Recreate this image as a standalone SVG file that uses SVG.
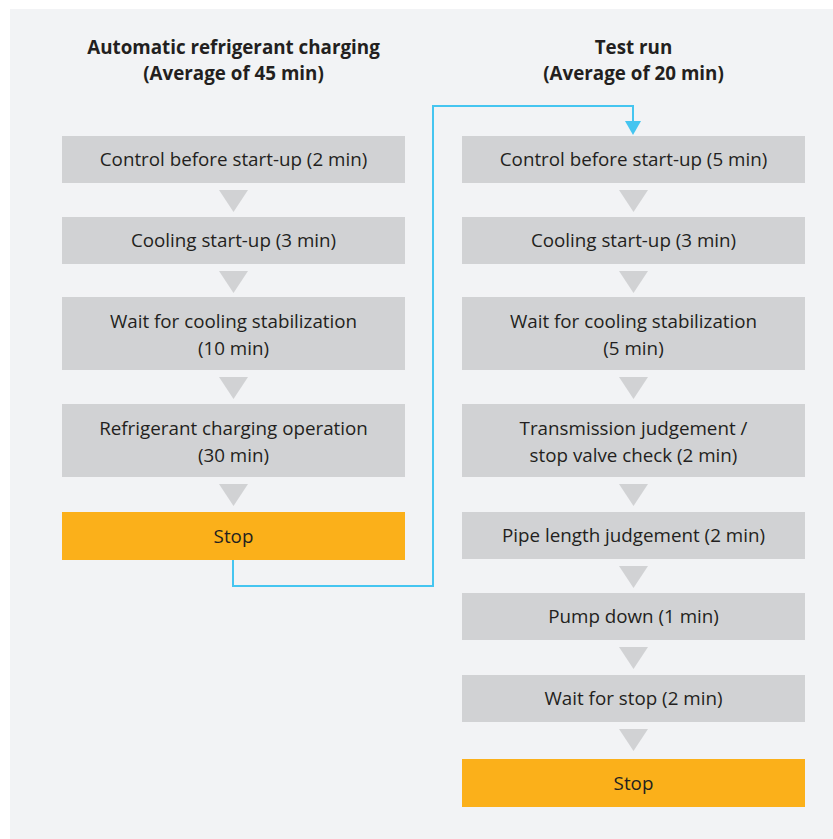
<svg xmlns="http://www.w3.org/2000/svg" width="833" height="839" viewBox="0 0 833 839">
<defs>
<style>
.box{fill:#d1d2d4}
.stop{fill:#fbb01a}
.tri{fill:#d1d2d4}
.t{font-family:"Open Sans","Noto Sans",sans-serif;font-size:18.8px;fill:#231f20;text-anchor:middle}
.h{font-family:"Open Sans","Noto Sans",sans-serif;font-size:18.8px;font-weight:bold;fill:#231f20;text-anchor:middle}
.conn{fill:none;stroke:#45c5f0;stroke-width:2}
</style>
</defs>
<rect x="10" y="9" width="823" height="830" fill="#f2f3f5"/>
<g id="titles">
<text class="h" x="233.5" y="54">Automatic refrigerant charging</text>
<text class="h" x="233.5" y="80">(Average of 45 min)</text>
<text class="h" x="633.5" y="54">Test run</text>
<text class="h" x="633.5" y="80">(Average of 20 min)</text>
</g>
<g id="connectors">
<polyline class="conn" points="233,560 233,586 433,586 433,106 633,106 633,122"/>
<path d="M625,121 L641,121 L633,135 Z" fill="#45c5f0"/>
<g class="tri">
<path d="M219,190 L248,190 L233.5,212 Z"/>
<path d="M219,271 L248,271 L233.5,293 Z"/>
<path d="M219,377 L248,377 L233.5,399 Z"/>
<path d="M219,484 L248,484 L233.5,506 Z"/>
<path d="M619,190 L648,190 L633.5,212 Z"/>
<path d="M619,271 L648,271 L633.5,293 Z"/>
<path d="M619,377 L648,377 L633.5,399 Z"/>
<path d="M619,484 L648,484 L633.5,506 Z"/>
<path d="M619,566 L648,566 L633.5,588 Z"/>
<path d="M619,647 L648,647 L633.5,669 Z"/>
<path d="M619,729 L648,729 L633.5,751 Z"/>
</g>
</g>
<g id="l1"><rect class="box" x="62" y="136" width="343" height="47"/><text class="t" x="233.5" y="166">Control before start-up (2 min)</text></g>
<g id="l2"><rect class="box" x="62" y="217" width="343" height="47"/><text class="t" x="233.5" y="247">Cooling start-up (3 min)</text></g>
<g id="l3"><rect class="box" x="62" y="297" width="343" height="73"/><text class="t" x="233.5" y="328">Wait for cooling stabilization</text><text class="t" x="233.5" y="355">(10 min)</text></g>
<g id="l4"><rect class="box" x="62" y="404" width="343" height="73"/><text class="t" x="233.5" y="435">Refrigerant charging operation</text><text class="t" x="233.5" y="462">(30 min)</text></g>
<g id="l5"><rect class="stop" x="62" y="512" width="343" height="48"/><text class="t" x="233.5" y="543">Stop</text></g>
<g id="r1"><rect class="box" x="462" y="136" width="343" height="47"/><text class="t" x="633.5" y="166">Control before start-up (5 min)</text></g>
<g id="r2"><rect class="box" x="462" y="217" width="343" height="47"/><text class="t" x="633.5" y="247">Cooling start-up (3 min)</text></g>
<g id="r3"><rect class="box" x="462" y="297" width="343" height="73"/><text class="t" x="633.5" y="328">Wait for cooling stabilization</text><text class="t" x="633.5" y="355">(5 min)</text></g>
<g id="r4"><rect class="box" x="462" y="404" width="343" height="73"/><text class="t" x="633.5" y="435">Transmission judgement /</text><text class="t" x="633.5" y="462">stop valve check (2 min)</text></g>
<g id="r5"><rect class="box" x="462" y="512" width="343" height="47"/><text class="t" x="633.5" y="542">Pipe length judgement (2 min)</text></g>
<g id="r6"><rect class="box" x="462" y="593" width="343" height="47"/><text class="t" x="633.5" y="623">Pump down (1 min)</text></g>
<g id="r7"><rect class="box" x="462" y="675" width="343" height="47"/><text class="t" x="633.5" y="705">Wait for stop (2 min)</text></g>
<g id="r8"><rect class="stop" x="462" y="759" width="343" height="48"/><text class="t" x="633.5" y="790">Stop</text></g>
</svg>
